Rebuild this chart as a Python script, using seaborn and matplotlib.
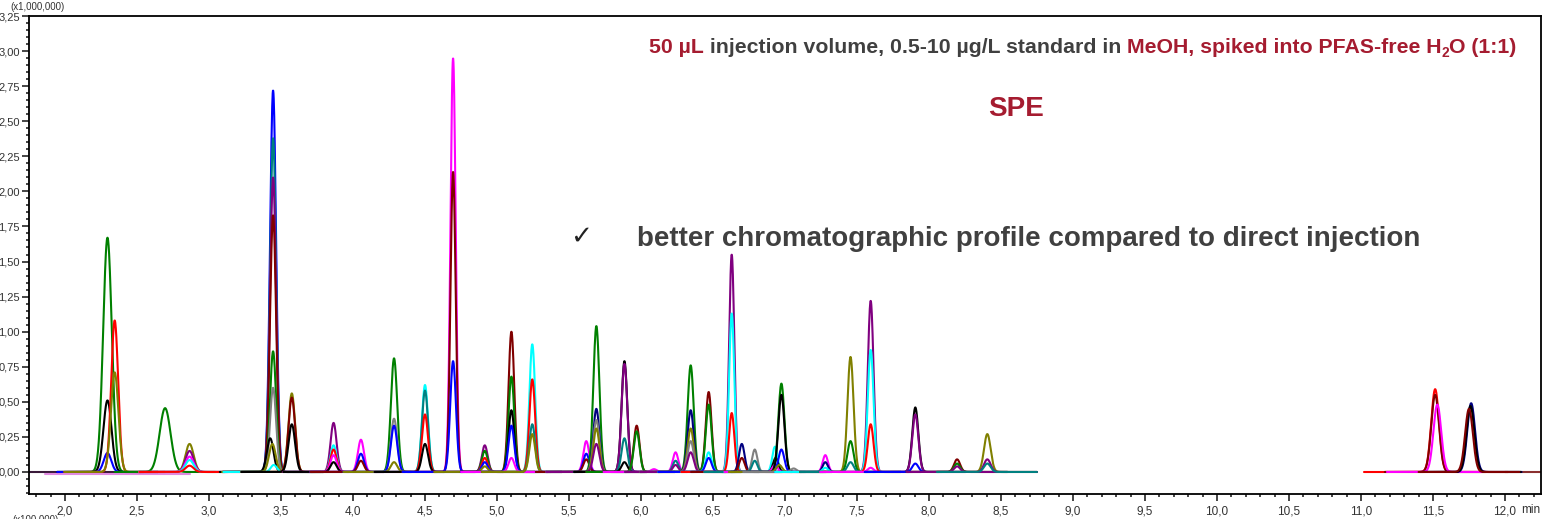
import numpy as np
import pandas as pd
import matplotlib
matplotlib.use("Agg")
import matplotlib.pyplot as plt
from matplotlib.ticker import MultipleLocator, FuncFormatter
import seaborn as sns

# ---------------- data ----------------
C = {"blue": "#0000FF", "red": "#FF0000", "green": "#008000", "black": "#000000",
     "magenta": "#FF00FF", "darkred": "#800000", "olive": "#808000", "navy": "#000080",
     "purple": "#800080", "teal": "#008080", "gray": "#808080", "cyan": "#00FFFF"}

peak_rt = [2.295, 2.295, 2.295, 2.345, 2.345,
           2.695,
           2.865, 2.865, 2.865, 2.865, 2.865,
           3.445, 3.445, 3.445, 3.445, 3.445, 3.445, 3.425, 3.44, 3.45,
           3.575, 3.575, 3.575,
           3.865, 3.865, 3.865, 3.865, 3.865,
           4.055, 4.055, 4.055,
           4.285, 4.285, 4.285, 4.285,
           4.50, 4.50, 4.50, 4.50,
           4.695, 4.695, 4.695,
           4.915, 4.915, 4.915, 4.915, 4.915,
           5.10, 5.10, 5.10, 5.10, 5.10,
           5.245, 5.245, 5.245, 5.245,
           5.62, 5.62, 5.62,
           5.69, 5.69, 5.69, 5.69, 5.69,
           5.885, 5.885, 5.885, 5.885,
           5.97, 5.97, 6.09,
           6.24, 6.24, 6.24,
           6.345, 6.345, 6.345, 6.345, 6.345,
           6.47, 6.47, 6.47, 6.47,
           6.63, 6.63, 6.63,
           6.70, 6.70,
           6.79, 6.79,
           6.93, 6.935, 6.93,
           6.975, 6.975, 6.975, 6.96, 7.06,
           7.28, 7.28, 7.28,
           7.455, 7.455, 7.455,
           7.595, 7.595, 7.595, 7.595,
           7.905, 7.905, 7.905,
           8.195, 8.195, 8.195,
           8.405, 8.405, 8.405,
           11.515, 11.515, 11.53,
           11.765, 11.76, 11.75]

peak_height = [1.67, 0.51, 0.135, 1.08, 0.71,
               0.455,
               0.20, 0.15, 0.11, 0.085, 0.045,
               2.72, 2.38, 2.10, 1.83, 0.86, 0.60, 0.24, 0.20, 0.05,
               0.56, 0.53, 0.34,
               0.35, 0.19, 0.16, 0.12, 0.07,
               0.23, 0.13, 0.08,
               0.81, 0.38, 0.33, 0.07,
               0.62, 0.58, 0.41, 0.20,
               2.95, 2.14, 0.79,
               0.19, 0.15, 0.10, 0.07, 0.04,
               1.00, 0.68, 0.44, 0.33, 0.10,
               0.91, 0.66, 0.34, 0.27,
               0.22, 0.13, 0.09,
               1.04, 0.45, 0.37, 0.31, 0.20,
               0.79, 0.77, 0.24, 0.07,
               0.33, 0.29, 0.02,
               0.14, 0.08, 0.05,
               0.76, 0.44, 0.31, 0.22, 0.14,
               0.57, 0.48, 0.14, 0.10,
               1.55, 1.13, 0.42,
               0.20, 0.10,
               0.16, 0.08,
               0.18, 0.10, 0.05,
               0.63, 0.55, 0.16, 0.05, 0.025,
               0.12, 0.07, 0.03,
               0.82, 0.22, 0.07,
               1.22, 0.87, 0.34, 0.03,
               0.46, 0.41, 0.06,
               0.09, 0.06, 0.04,
               0.27, 0.09, 0.06,
               0.59, 0.55, 0.48,
               0.49, 0.47, 0.45]

peak_color = ["green", "black", "blue", "red", "olive",
              "green",
              "olive", "purple", "magenta", "cyan", "red",
              "blue", "teal", "purple", "darkred", "green", "gray", "black", "olive", "cyan",
              "olive", "darkred", "black",
              "purple", "cyan", "red", "magenta", "black",
              "magenta", "blue", "darkred",
              "green", "gray", "blue", "olive",
              "cyan", "teal", "red", "black",
              "magenta", "darkred", "blue",
              "purple", "green", "red", "blue", "olive",
              "darkred", "green", "black", "blue", "magenta",
              "cyan", "red", "teal", "olive",
              "magenta", "blue", "darkred",
              "green", "navy", "gray", "olive", "purple",
              "black", "purple", "teal", "black",
              "darkred", "green", "magenta",
              "magenta", "teal", "purple",
              "green", "navy", "olive", "gray", "purple",
              "darkred", "green", "cyan", "blue",
              "purple", "cyan", "red",
              "navy", "darkred",
              "gray", "teal",
              "cyan", "black", "magenta",
              "green", "black", "blue", "olive", "gray",
              "magenta", "navy", "cyan",
              "olive", "green", "teal",
              "purple", "cyan", "red", "magenta",
              "black", "purple", "blue",
              "darkred", "green", "purple",
              "olive", "purple", "teal",
              "red", "darkred", "magenta",
              "navy", "black", "darkred"]

peak_sigma = [0.030, 0.028, 0.026, 0.024, 0.026,
              0.038,
              0.028, 0.028, 0.028, 0.028, 0.028,
              0.021, 0.021, 0.021, 0.021, 0.021, 0.021, 0.023, 0.023, 0.021,
              0.023, 0.023, 0.023,
              0.021, 0.021, 0.021, 0.021, 0.021,
              0.021, 0.021, 0.021,
              0.022, 0.022, 0.022, 0.022,
              0.021, 0.021, 0.021, 0.021,
              0.018, 0.018, 0.020,
              0.020, 0.020, 0.020, 0.020, 0.020,
              0.020, 0.020, 0.020, 0.020, 0.020,
              0.020, 0.020, 0.020, 0.020,
              0.020, 0.020, 0.020,
              0.021, 0.021, 0.021, 0.021, 0.021,
              0.020, 0.020, 0.020, 0.020,
              0.020, 0.020, 0.020,
              0.019, 0.019, 0.019,
              0.021, 0.021, 0.021, 0.021, 0.021,
              0.020, 0.020, 0.020, 0.020,
              0.018, 0.018, 0.018,
              0.019, 0.019,
              0.018, 0.018,
              0.018, 0.018, 0.018,
              0.021, 0.021, 0.020, 0.020, 0.020,
              0.018, 0.018, 0.018,
              0.021, 0.021, 0.021,
              0.020, 0.020, 0.020, 0.020,
              0.021, 0.021, 0.021,
              0.021, 0.021, 0.021,
              0.023, 0.023, 0.023,
              0.027, 0.027, 0.027,
              0.027, 0.027, 0.027]

# acquisition segments (min) and baseline-only traces
segments = [(1.75, 8.75), (11.02, 12.25)]
base_start = [1.75, 1.86, 11.02, 12.0]
base_end = [2.6, 2.87, 12.02, 12.25]
base_level = [0.0, -0.012, 0.0, 0.0]
base_color = ["#3a1a3a", "#E08AE0", "red", "#8B3030"]

x_ticks = [2.0, 2.5, 3.0, 3.5, 4.0, 4.5, 5.0, 5.5, 6.0, 6.5, 7.0, 7.5, 8.0, 8.5,
           9.0, 9.5, 10.0, 10.5, 11.0, 11.5, 12.0]
y_ticks = [0.0, 0.25, 0.5, 0.75, 1.0, 1.25, 1.5, 1.75, 2.0, 2.25, 2.5, 2.75, 3.0, 3.25]

# ---------------- build long-form table ----------------
rows = []
tid = 0
for s, e, lv, col in zip(base_start, base_end, base_level, base_color):
    t = np.linspace(s, e, 60)
    rows.append(pd.DataFrame({"t": t, "v": np.full_like(t, lv), "trace": tid, "color": col}))
    tid += 1
for rt, h, cname, sg in zip(peak_rt, peak_height, peak_color, peak_sigma):
    seg = segments[0] if rt < 9 else segments[1]
    lo, hi = max(seg[0], rt - 0.35), min(seg[1], rt + 0.35)
    t = np.linspace(lo, hi, 400)
    v = h * np.exp(-0.5 * ((t - rt) / sg) ** 2)
    rows.append(pd.DataFrame({"t": t, "v": v, "trace": tid, "color": C[cname]}))
    tid += 1
df = pd.concat(rows, ignore_index=True)
palette = {k: g["color"].iloc[0] for k, g in df.groupby("trace")}

# ---------------- figure ----------------
W, H = 1544, 519
sns.set_style("ticks")
plt.rcParams["font.family"] = ["Liberation Sans", "DejaVu Sans"]
fig = plt.figure(figsize=(W / 100, H / 100), dpi=100)
ax = fig.add_axes([29 / W, 1 - 494 / H, (1541 - 29) / W, (494 - 16) / H])

sns.lineplot(data=df, x="t", y="v", hue="trace", palette=palette, units="trace",
             estimator=None, sort=False, legend=False, linewidth=1.5, ax=ax)

ax.set_xlim(1.75, 12.25)
ax.set_ylim(-0.157, 3.25)
ax.set_xticks(x_ticks)
ax.set_yticks(y_ticks)
ax.xaxis.set_minor_locator(MultipleLocator(0.1))
ax.yaxis.set_minor_locator(MultipleLocator(0.05))
ax.xaxis.set_major_formatter(FuncFormatter(lambda v, p: f"{v:.1f}".replace(".", ",")))
ax.yaxis.set_major_formatter(FuncFormatter(lambda v, p: f"{v:.2f}".replace(".", ",")))
ax.set_xlabel("")
ax.set_ylabel("")
ax.tick_params(axis="both", which="major", direction="out", length=5, width=1.2,
               labelsize=8, labelcolor="#333333", pad=1.5)
ax.tick_params(axis="x", which="major", labelsize=8.5, pad=3)
ax.tick_params(axis="both", which="minor", direction="out", length=2.5, width=1.2)
for sp in ax.spines.values():
    sp.set_visible(True)
    sp.set_linewidth(1.3)
    sp.set_color("black")

fig.text(10 / W, 1 - 10 / H, "(x1,000,000)", fontsize=7, color="#333333", va="baseline")
fig.text(12 / W, 1 - 523 / H, "(x100,000)", fontsize=7, color="#333333", va="baseline")
fig.text(1521 / W, 1 - 513 / H, "min", fontsize=8.5, color="#333333", va="baseline")

# ---------------- annotation texts ----------------
RED = "#A51C30"
GRAY = "#404040"
renderer = fig.canvas.get_renderer()


def text_width(s, size):
    t1 = fig.text(0, 0, s + "x", fontsize=size, fontweight="bold")
    t2 = fig.text(0, 0, "x", fontsize=size, fontweight="bold")
    w = t1.get_window_extent(renderer).width - t2.get_window_extent(renderer).width
    t1.remove()
    t2.remove()
    return w


def colored_line(x0, y0, pieces):
    x = x0
    for s, col, size, dy in pieces:
        fig.text(x / W, 1 - (y0 + dy) / H, s, color=col, fontsize=size,
                 fontweight="bold", va="baseline", ha="left")
        x += text_width(s, size)


ts = 15.3
colored_line(649, 53, [("50 µL", RED, ts, 0),
                       (" injection volume, 0.5-10 µg/L standard in ", GRAY, ts, 0),
                       ("MeOH, spiked into PFAS-free H", RED, ts, 0),
                       ("2", RED, ts * 0.65, 4),
                       ("O (1:1)", RED, ts, 0)])
fig.text(1016 / W, 1 - 116 / H, "SPE", color=RED, fontsize=20, fontweight="bold",
         ha="center", va="baseline")
fig.text(570 / W, 1 - 244 / H, "✓", color="#222222", fontsize=19,
         family=["DejaVu Sans"], va="baseline")
fig.text(637 / W, 1 - 246 / H, "better chromatographic profile compared to direct injection",
         color=GRAY, fontsize=20, fontweight="bold", va="baseline")

fig.savefig("out.png", dpi=100)
